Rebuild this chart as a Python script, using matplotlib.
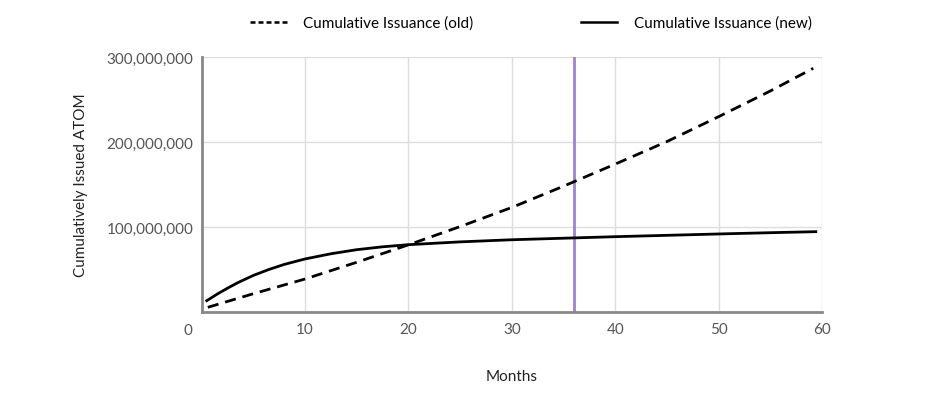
import matplotlib
matplotlib.use("Agg")
import matplotlib.pyplot as plt
from matplotlib.lines import Line2D
from matplotlib.ticker import FuncFormatter

plt.rcParams['font.family'] = ['Lato', 'DejaVu Sans']

# Data
old_months = [0.6, 5, 10, 15, 20, 25, 30, 35, 40, 45, 50, 55, 59.15]
old_values = [5.5e6, 21.5e6, 38.8e6, 58.5e6, 79e6, 100.5e6, 123e6, 148e6, 174e6, 200.5e6, 229.8e6, 260e6, 286.7e6]

new_months = [0.5, 1.5, 2.5, 3.5, 5, 6.5, 8, 10, 12.5, 15, 17.5, 20, 25, 30, 35, 40, 45, 50, 55, 59.4]
new_values = [13.3e6, 21e6, 28e6, 34.5e6, 43e6, 50e6, 56e6, 62.4e6, 68.5e6, 73.3e6, 76.7e6, 79.2e6,
              82.5e6, 85e6, 86.8e6, 88.6e6, 90.2e6, 91.8e6, 93.3e6, 94.5e6]

marker_month = 36
x_ticks = [10, 20, 30, 40, 50, 60]
y_ticks = [100e6, 200e6, 300e6]

fig = plt.figure(figsize=(9.36, 4.02), dpi=100)
ax = fig.add_axes([0.2154, 0.2214, 0.6628, 0.6343])

ax.set_xlim(0, 60)
ax.set_ylim(0, 300e6)
ax.set_xticks(x_ticks)
ax.set_yticks(y_ticks)
ax.grid(True, color='#dddddd', linewidth=1)
ax.set_axisbelow(True)

for s in ['top', 'right']:
    ax.spines[s].set_visible(False)
for s in ['left', 'bottom']:
    ax.spines[s].set_color('#888888')
    ax.spines[s].set_linewidth(2)

ax.tick_params(length=0, labelsize=11, labelcolor='#555555', pad=7)
ax.tick_params(axis='y', pad=6)
ax.yaxis.set_major_formatter(FuncFormatter(lambda v, p: f"{int(v):,}"))

ax.axvline(marker_month, color='#9d80d8', linewidth=2)

ax.plot(old_months, old_values, color='black', linewidth=2, dashes=(4, 2.5))
ax.plot(new_months, new_values, color='black', linewidth=2)

# "0" label at the origin, slightly to the left
ax.annotate('0', xy=(0, 0), xycoords='data', xytext=(-10, -8), textcoords='offset points',
            ha='center', va='top', fontsize=11, color='#555555')

ax.set_xlabel('Months', fontsize=11, color='#222222', labelpad=24)
ax.set_ylabel('Cumulatively Issued ATOM', fontsize=11, color='#222222', labelpad=13)

handles = [Line2D([], [], color='black', linewidth=1.8, dashes=(2, 1.2)),
           Line2D([], [], color='black', linewidth=1.8)]
fig.legend(handles, ['Cumulative Issuance (old)', 'Cumulative Issuance (new)'],
           loc='center', bbox_to_anchor=(531 / 936, 1 - 24 / 402), ncol=2, frameon=False,
           fontsize=11, handlelength=2.4, handletextpad=1.1, columnspacing=7.0)

fig.savefig('out.png', dpi=100)
